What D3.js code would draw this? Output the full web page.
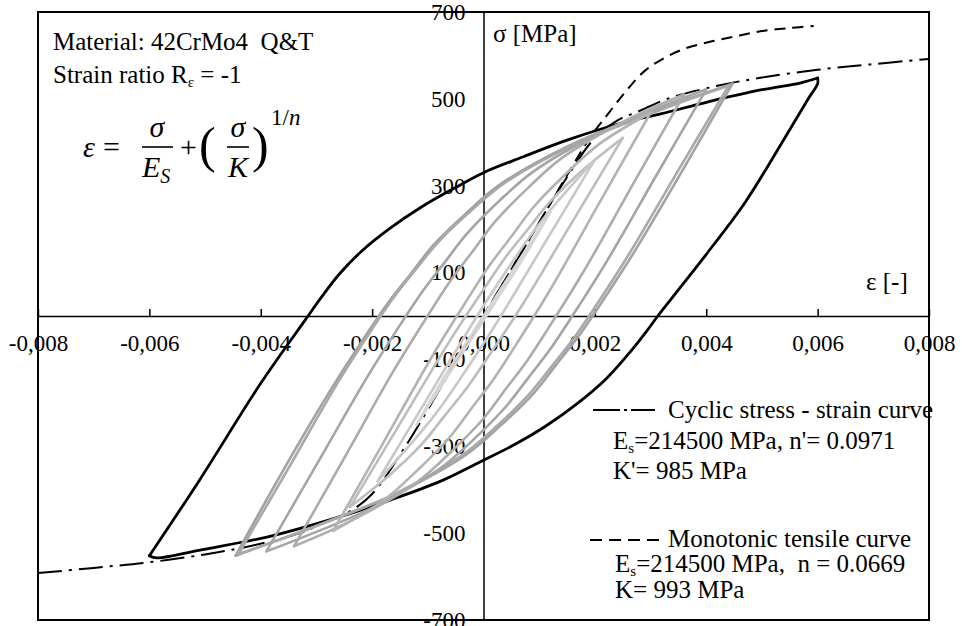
<!DOCTYPE html>
<html>
<head>
<meta charset="utf-8">
<script src="https://cdn.jsdelivr.net/npm/d3@7"></script>
<style>
  body { margin: 0; background: #fff; }
  svg { display: block; font-family: "Liberation Serif", "Times New Roman", serif; }
  text { white-space: pre; }
</style>
</head>
<body>
<div id="chart"></div>
<script>
// strain [-], stress [MPa]
const strainTicks = [-0.008, -0.006, -0.004, -0.002, 0, 0.002, 0.004, 0.006, 0.008];
const stressLabels = [-700, -500, -300, -100, 100, 300, 500, 700];

const stabilizedUp = [[-0.0060, -552], [-0.0051, -378], [-0.0040, -155], [-0.0032, -9], [-0.0029, 45], [-0.0026, 95],
  [-0.0022, 148], [-0.0017, 200], [-0.0011, 252], [-0.0005, 296], [0, 330], [0.0007, 366], [0.0015, 405],
  [0.0025, 445], [0.0032, 466], [0.0040, 492], [0.0050, 521], [0.0057, 537], [0.0060, 548]];
const stabilizedDown = [[0.0060, 548], [0.0060, 535], [0.00584, 502], [0.00541, 410], [0.0047, 262], [0.0040, 142],
  [0.00345, 52], [0.00313, 0], [0.0029, -40], [0.0026, -88], [0.0022, -145], [0.0017, -200], [0.0011, -255],
  [0.0005, -300], [0, -332], [-0.0008, -382], [-0.00168, -424], [-0.0024, -455], [-0.0031, -482],
  [-0.00389, -509], [-0.00509, -539], [-0.00587, -557], [-0.0060, -552]];

const loop45Up = [[-0.00445, -552], [-0.0036, -356], [-0.0027, -161], [-0.0021, -42], [-0.0017, 33], [-0.0013, 98],
  [-0.0009, 163], [-0.0003, 238], [0.0003, 303], [0.0015, 390], [0.0025, 444], [0.0035, 492], [0.00447, 535]];
const loop45Down = [[0.00447, 535], [0.0036, 341], [0.0027, 146], [0.0021, 27], [0.0017, -48], [0.0013, -113],
  [0.0009, -178], [0.0003, -253], [-0.0003, -318], [-0.0015, -405], [-0.0025, -459], [-0.0035, -507], [-0.00445, -552]];
const loop44Up = [[-0.0044, -548], [-0.0035, -350], [-0.0026, -150], [-0.0020, -30], [-0.0016, 45], [-0.0012, 110],
  [-0.0008, 172], [-0.0002, 245], [0.0004, 308], [0.0016, 393], [0.0026, 446], [0.0035, 490], [0.0044, 530]];
const loop44Down = [[0.0044, 530], [0.0035, 336], [0.0026, 140], [0.0020, 20], [0.0016, -55], [0.0012, -120],
  [0.0008, -183], [0.0002, -258], [-0.0004, -322], [-0.0016, -410], [-0.0026, -463], [-0.0035, -508], [-0.0044, -548]];
const loop40Up = [[-0.0039, -542], [-0.0030, -343], [-0.0021, -143], [-0.0015, -21], [-0.0011, 56], [-0.0007, 123],
  [-0.0003, 189], [0.0003, 267], [0.0009, 333], [0.0021, 422], [0.0031, 477], [0.0040, 522]];
const loop40Down = [[0.0040, 522], [0.0031, 323], [0.0022, 123], [0.0016, 1], [0.0012, -76], [0.0008, -143],
  [0.0004, -209], [-0.0002, -287], [-0.0008, -353], [-0.0020, -442], [-0.0030, -497], [-0.0039, -542]];
const loop35Up = [[-0.0034, -530], [-0.0025, -327], [-0.0016, -123], [-0.0010, 1], [-0.0006, 80], [-0.0002, 148],
  [0.0002, 216], [0.0008, 295], [0.0014, 363], [0.0026, 453], [0.0036, 510]];
const loop35Down = [[0.0036, 510], [0.0027, 307], [0.0018, 103], [0.0012, -21], [0.0008, -100], [0.0004, -168],
  [0, -236], [-0.0006, -315], [-0.0012, -383], [-0.0024, -473], [-0.0034, -530]];
const loop30Up = [[-0.0027, -495], [-0.0018, -292], [-0.0009, -88], [-0.0003, 36], [0.0001, 115], [0.0005, 183],
  [0.0009, 251], [0.0015, 330], [0.0021, 398], [0.0030, 468]];
const loop30Down = [[0.0030, 468], [0.0021, 265], [0.0012, 61], [0.0006, -63], [0.0002, -142], [-0.0002, -210],
  [-0.0006, -278], [-0.0012, -357], [-0.0018, -425], [-0.0027, -495]];
const loop25Up = [[-0.0024, -440], [-0.0015, -248], [-0.0006, -56], [0, 61], [0.0004, 136], [0.0008, 200],
  [0.0012, 264], [0.0018, 338], [0.0025, 410]];
const loop25Down = [[0.0025, 410], [0.0016, 218], [0.0007, 26], [0.0001, -91], [-0.0003, -166], [-0.0007, -230],
  [-0.0011, -294], [-0.0017, -368], [-0.0024, -440]];
const loop20Up = [[-0.0019, -380], [-0.0010, -188], [-0.0001, 3], [0.0005, 121], [0.0009, 195], [0.0013, 259], [0.0020, 360]];
const loop20Down = [[0.0020, 360], [0.0011, 168], [0.0002, -23], [-0.0004, -141], [-0.0008, -215], [-0.0012, -279], [-0.0019, -380]];
const loop12Up = [[-0.0012, -250], [-0.0004, -90], [0.0002, 30], [0.0007, 130], [0.0012, 240]];
const loop12Down = [[0.0012, 240], [0.0004, 80], [-0.0002, -40], [-0.0007, -140], [-0.0012, -250]];

const cyclicCurve = [[-0.0080, -592], [-0.0070, -580], [-0.0060, -567], [-0.0050, -549], [-0.0042, -530],
  [-0.0033, -500], [-0.0028, -472], [-0.0024, -450], [-0.0020, -410], [-0.0014, -300], [-0.0007, -150], [0, 0],
  [0.0007, 150], [0.0014, 300], [0.0020, 410], [0.0024, 450], [0.0028, 472], [0.0033, 500], [0.0042, 530],
  [0.0050, 549], [0.0060, 567], [0.0070, 580], [0.0080, 592]];
const monotonicCurve = [[0, 0], [0.0010, 215], [0.0019, 408], [0.00224, 466], [0.00258, 521], [0.0029, 565],
  [0.00319, 590], [0.0036, 615], [0.00412, 633], [0.0046, 646], [0.00504, 657], [0.0055, 663], [0.00593, 668]];

const grayLoops = [
  [loop45Up, loop45Down], [loop44Up, loop44Down], [loop40Up, loop40Down], [loop35Up, loop35Down],
  [loop30Up, loop30Down], [loop25Up, loop25Down], [loop20Up, loop20Down], [loop12Up, loop12Down]
];
const grayShades = ['#a2a2a2', '#a9a9a9', '#a5a5a5', '#acacac', '#b3b3b3', '#bdbdbd', '#c8c8c8', '#d5d5d5'];

const width = 962;
const height = 626;

const svg = d3.select('#chart').append('svg')
  .attr('width', width)
  .attr('height', height);

svg.append('rect').attr('width', width).attr('height', height).attr('fill', '#fff');

const x = d3.scaleLinear().domain([-0.008, 0.008]).range([38, 929]);
const y = d3.scaleLinear().domain([-700, 700]).range([620, 12]);

const locale = d3.formatLocale({ decimal: ',', thousands: '.', grouping: [3], currency: ['', ''], minus: '-' });
const fmtStrain = locale.format('.3f');
const fmtStress = locale.format('d');

// axes through the origin
const xAxisG = svg.append('g').attr('transform', `translate(0,${y(0)})`);
xAxisG.call(d3.axisBottom(x).tickValues(d3.range(-0.008, 0.00801, 0.0005)).tickSizeInner(-4).tickSizeOuter(0).tickFormat(''));
xAxisG.call(d3.axisBottom(x).tickValues(strainTicks).tickSizeInner(-7).tickSizeOuter(0).tickPadding(19).tickFormat(fmtStrain));
xAxisG.selectAll('.domain').attr('stroke-width', 1.5);
xAxisG.selectAll('.tick line').attr('stroke-width', 1.5);
xAxisG.selectAll('text').attr('font-size', 23).attr('font-family', '"Liberation Serif", serif').attr('fill', '#000');

const yAxisG = svg.append('g').attr('transform', `translate(${x(0)},0)`);
yAxisG.call(d3.axisLeft(y).tickValues(d3.range(-700, 701, 100)).tickSizeInner(-6).tickSizeOuter(0).tickFormat(''));
yAxisG.call(d3.axisLeft(y).tickValues(stressLabels).tickSize(0).tickPadding(18).tickFormat(fmtStress));
yAxisG.selectAll('.domain').attr('stroke-width', 1.5);
yAxisG.selectAll('.tick line').attr('stroke-width', 1.5);
yAxisG.selectAll('text').attr('font-size', 23).attr('font-family', '"Liberation Serif", serif').attr('fill', '#000');

svg.append('rect')
  .attr('x', x(-0.008)).attr('y', y(700))
  .attr('width', x(0.008) - x(-0.008)).attr('height', y(-700) - y(700))
  .attr('fill', 'none').attr('stroke', '#000').attr('stroke-width', 2);

const line = d3.line()
  .x(d => x(d[0]))
  .y(d => y(d[1]))
  .curve(d3.curveCatmullRom.alpha(0.5));

const curves = svg.append('g').attr('fill', 'none').attr('stroke-linejoin', 'round').attr('stroke-linecap', 'round');

curves.append('path')
  .attr('d', line(cyclicCurve))
  .attr('stroke', '#000')
  .attr('stroke-width', 2)
  .attr('stroke-linecap', 'butt')
  .attr('stroke-dasharray', '24,7,3,7');

curves.append('path')
  .attr('d', line(monotonicCurve))
  .attr('stroke', '#000')
  .attr('stroke-width', 2)
  .attr('stroke-linecap', 'butt')
  .attr('stroke-dasharray', '11,7');

curves.selectAll('path.stab')
  .data([stabilizedUp, stabilizedDown])
  .join('path')
  .attr('class', 'stab')
  .attr('d', line)
  .attr('stroke', '#000')
  .attr('stroke-width', 2.8);

grayLoops.forEach((loop, i) => {
  curves.append('g')
    .selectAll('path')
    .data(loop)
    .join('path')
    .attr('d', line)
    .attr('stroke', grayShades[i])
    .attr('stroke-width', 2.6);
});

// text
const txt = svg.append('g').attr('font-size', 25).attr('fill', '#000');

txt.append('text').attr('x', 53).attr('y', 50).text('Material: 42CrMo4  Q&T');
const ratio = txt.append('text').attr('x', 53).attr('y', 83);
ratio.append('tspan').text('Strain ratio R');
ratio.append('tspan').attr('font-size', 15).attr('dy', 4).text('ε');
ratio.append('tspan').attr('dy', -4).text(' = -1');

txt.append('text').attr('x', 493).attr('y', 42).text('σ [MPa]');
txt.append('text').attr('x', 866).attr('y', 290).text('ε [-]');

// formula
const fx = svg.append('g').attr('fill', '#000');
fx.append('text').attr('x', 83).attr('y', 157).attr('font-size', 30).attr('font-style', 'italic').text('ε');
fx.append('text').attr('x', 103).attr('y', 157).attr('font-size', 30).text('=');
fx.append('text').attr('x', 157).attr('y', 137).attr('font-size', 30).attr('font-style', 'italic').attr('text-anchor', 'middle').text('σ');
fx.append('line').attr('x1', 142).attr('x2', 173).attr('y1', 147).attr('y2', 147).attr('stroke', '#000').attr('stroke-width', 1.6);
const es = fx.append('text').attr('x', 142).attr('y', 177).attr('font-size', 30).attr('font-style', 'italic');
es.append('tspan').text('E');
es.append('tspan').attr('font-size', 20).attr('dy', 6).text('S');
fx.append('text').attr('x', 180).attr('y', 157).attr('font-size', 30).text('+');
fx.append('text').attr('x', 199).attr('y', 162).attr('font-size', 50).text('(');
fx.append('text').attr('x', 238).attr('y', 137).attr('font-size', 30).attr('font-style', 'italic').attr('text-anchor', 'middle').text('σ');
fx.append('line').attr('x1', 227).attr('x2', 249).attr('y1', 147).attr('y2', 147).attr('stroke', '#000').attr('stroke-width', 1.6);
fx.append('text').attr('x', 228).attr('y', 177).attr('font-size', 30).attr('font-style', 'italic').text('K');
fx.append('text').attr('x', 252).attr('y', 162).attr('font-size', 50).text(')');
const expo = fx.append('text').attr('x', 271).attr('y', 125).attr('font-size', 23);
expo.append('tspan').text('1/');
expo.append('tspan').attr('font-style', 'italic').text('n');

// legend
const lg = svg.append('g').attr('font-size', 25).attr('fill', '#000');
lg.append('line').attr('x1', 593).attr('x2', 655).attr('y1', 410).attr('y2', 410)
  .attr('stroke', '#000').attr('stroke-width', 2).attr('stroke-dasharray', '27,4,3,4');
lg.append('text').attr('x', 668).attr('y', 418).text('Cyclic stress - strain curve');
const l1 = lg.append('text').attr('x', 613).attr('y', 449);
l1.append('tspan').text('E');
l1.append('tspan').attr('font-size', 15).attr('dy', 4).text('s');
l1.append('tspan').attr('dy', -4).text('=214500 MPa, n\'= 0.0971');
lg.append('text').attr('x', 613).attr('y', 479).text('K\'= 985 MPa');

lg.append('line').attr('x1', 590).attr('x2', 663).attr('y1', 540).attr('y2', 540)
  .attr('stroke', '#000').attr('stroke-width', 2).attr('stroke-dasharray', '12,7');
lg.append('text').attr('x', 668).attr('y', 547).text('Monotonic tensile curve');
const l2 = lg.append('text').attr('x', 615).attr('y', 572);
l2.append('tspan').text('E');
l2.append('tspan').attr('font-size', 15).attr('dy', 4).text('s');
l2.append('tspan').attr('dy', -4).text('=214500 MPa,  n = 0.0669');
lg.append('text').attr('x', 615).attr('y', 598).text('K= 993 MPa');
</script>
</body>
</html>
